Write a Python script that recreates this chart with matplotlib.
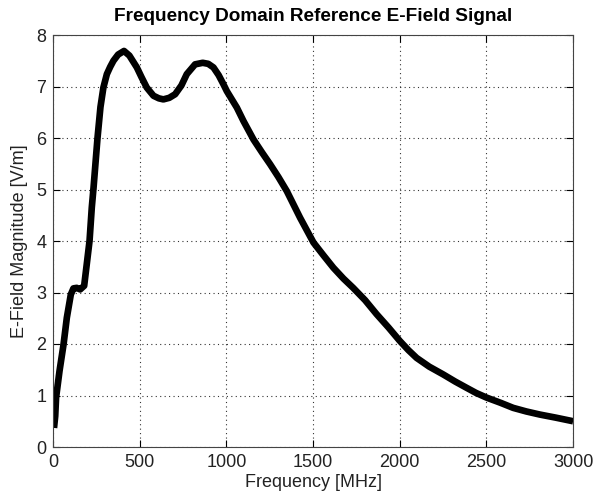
import matplotlib
matplotlib.use("Agg")
import matplotlib.pyplot as plt
import numpy as np

# frequency [MHz] and field magnitude [V/m]
freq = [5, 12, 17, 37, 60, 79, 102, 117, 136, 156, 179, 194, 210, 223, 233,
        256, 273, 290, 310, 329, 348, 375, 409, 440, 483, 510, 540, 579, 610,
        636, 670, 704, 740, 771, 819, 863, 895, 925, 955, 983, 1002, 1060,
        1098, 1156, 1205, 1252, 1300, 1348, 1425, 1502, 1560, 1617, 1675,
        1731, 1800, 1866, 1935, 2000, 2050, 2097, 2170, 2250, 2320, 2385,
        2440, 2500, 2580, 2654, 2730, 2808, 2900, 3000]
efield = [0.37, 0.6, 0.96, 1.48, 1.99, 2.51, 2.96, 3.08, 3.09, 3.06, 3.13,
          3.55, 4.0, 4.65, 5.03, 6.0, 6.6, 6.98, 7.24, 7.38, 7.5, 7.62, 7.69,
          7.6, 7.37, 7.18, 6.98, 6.82, 6.77, 6.75, 6.78, 6.85, 7.02, 7.24,
          7.43, 7.46, 7.44, 7.37, 7.22, 7.04, 6.91, 6.59, 6.33, 5.97, 5.72,
          5.49, 5.24, 4.97, 4.45, 3.97, 3.72, 3.48, 3.27, 3.09, 2.85, 2.58,
          2.32, 2.06, 1.88, 1.73, 1.56, 1.41, 1.27, 1.15, 1.05, 0.96, 0.86,
          0.76, 0.69, 0.63, 0.57, 0.5]

xticks = [0, 500, 1000, 1500, 2000, 2500, 3000]
yticks = [0, 1, 2, 3, 4, 5, 6, 7, 8]

plt.rcParams['font.family'] = ['Liberation Sans', 'DejaVu Sans']

fig = plt.figure(figsize=(5.97, 5.0), dpi=100)
ax = fig.add_axes([0.089, 0.106, 0.871, 0.824])

ax.plot(freq, efield, color='black', linewidth=4.8, solid_capstyle='butt',
        solid_joinstyle='round')

ax.set_xlim(0, 3000)
ax.set_ylim(0, 8)
ax.set_xticks(xticks)
ax.set_yticks(yticks)
ax.grid(True, linestyle=(0, (1, 3)), color='black', linewidth=0.8, alpha=0.8)
ax.tick_params(direction='in', top=True, right=True, labelsize=13, length=5,
               pad=5, colors='black', labelcolor='#222222')
for s in ax.spines.values():
    s.set_linewidth(0.8)
    s.set_color('#444444')

ax.set_xlabel("Frequency [MHz]", fontsize=13, labelpad=2, color='#222222')
ax.set_ylabel("E-Field Magnitude [V/m]", fontsize=13, labelpad=6, color='#222222')
ax.set_title("Frequency Domain Reference E-Field Signal", fontsize=13.7,
             fontweight='bold', pad=10)

fig.savefig("out.png", dpi=100)
